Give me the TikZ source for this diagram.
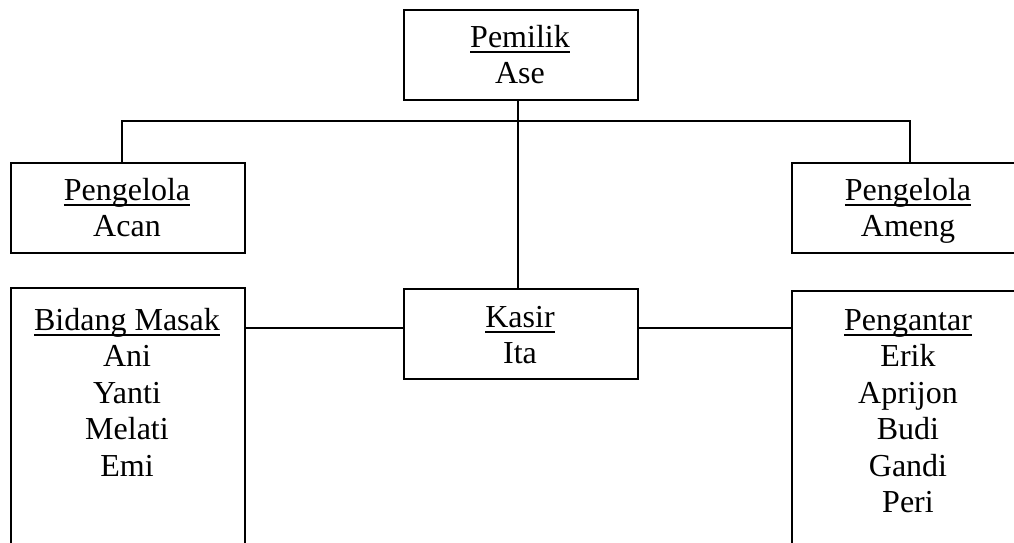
\documentclass[tikz,border=0pt]{standalone}
\usepackage{fontspec}
\setmainfont{Liberation Serif}
\newcommand{\myul}[1]{\leavevmode\setbox0\hbox{#1}\rlap{\rule[-5.5pt]{\wd0}{1.6pt}}\box0}
\tikzset{
  box/.style={draw, line width=1.6pt, minimum width=234pt, minimum height=90pt, anchor=north west, inner sep=0pt},
  tallbox/.style={box, minimum height=320pt},
  lbl/.style={anchor=base, inner sep=0pt, font=\fontsize{32}{36.5}\selectfont},
  link/.style={line width=1.6pt}
}
\newcommand{\lines}[1]{\setlength{\tabcolsep}{0pt}\begin{tabular}[t]{c}#1\end{tabular}}
\begin{document}
\begin{tikzpicture}[x=1pt,y=-1pt]
\useasboundingbox (0,0) rectangle (1014,542);
% boxes
\node[box] (own) at (403,9) {};
\node[box] (acan) at (10,162) {};
\node[box] (ameng) at (791,162) {};
\node[tallbox] (masak) at (10,287) {};
\node[box] (kasir) at (403,288) {};
\node[tallbox] (antar) at (791,290) {};
% texts
\node[lbl] (townr) at (520,47) {\lines{\myul{Pemilik}\\Ase}};
\node[lbl] (tacan) at (127,200) {\lines{\myul{Pengelola}\\Acan}};
\node[lbl] (tameng) at (908,200) {\lines{\myul{Pengelola}\\Ameng}};
\node[lbl] (tmasak) at (127,330) {\lines{\myul{Bidang Masak}\\Ani\\Yanti\\Melati\\Emi}};
\node[lbl] (tkasir) at (520,327) {\lines{\myul{Kasir}\\Ita}};
\node[lbl] (tantar) at (908,330) {\lines{\myul{Pengantar}\\Erik\\Aprijon\\Budi\\Gandi\\Peri}};
% connectors
\coordinate (bus) at (518,121);
\coordinate (busL) at (122,121);
\coordinate (busR) at (910,121);
\draw[link] (own.south -| bus) -- (kasir.north -| bus);
\draw[link] (acan.north -| busL) -- (busL) -- (busR) -- (ameng.north -| busR);
\coordinate (mid) at (518,328);
\draw[link] (kasir.west |- mid) -- (masak.east |- mid);
\draw[link] (kasir.east |- mid) -- (antar.west |- mid);
\end{tikzpicture}
\end{document}
